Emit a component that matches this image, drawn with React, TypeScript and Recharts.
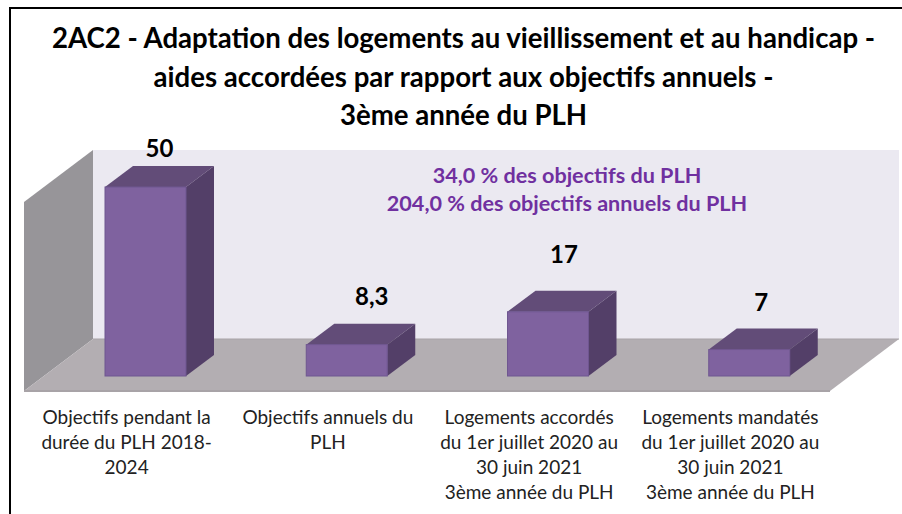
import React from "react";
import { BarChart, Bar, XAxis, YAxis, LabelList, Customized } from "recharts";

const categories = [
  ["Objectifs pendant la", "durée du PLH 2018-", "2024"],
  ["Objectifs annuels du", "PLH"],
  ["Logements accordés", "du 1er juillet 2020 au", "30 juin 2021", "3ème année du PLH"],
  ["Logements mandatés", "du 1er juillet 2020 au", "30 juin 2021", "3ème année du PLH"],
];
const values = [50, 8.3, 17, 7];
const valueLabels = ["50", "8,3", "17", "7"];
const titleLines = [
  "2AC2 - Adaptation des logements au vieillissement et au handicap -",
  "aides accordées par rapport aux objectifs annuels -",
  "3ème année du PLH",
];
const noteLines = ["34,0 % des objectifs du PLH", "204,0 % des objectifs annuels du PLH"];

const labelShift = [
  [14, -38],
  [25, -48],
  [16, -57],
  [12, -47],
];

const data = values.map((value, i) => ({ key: String(i), value }));
const FONT = "Lato, Carlito, 'Open Sans', sans-serif";
const DX = 28;
const DY = 21;

const Box = (props: any) => {
  const { x, y, width, height } = props;
  const r = x + width;
  const b = y + height;
  return (
    <g>
      <polygon points={`${x},${y} ${x + DX},${y - DY} ${r + DX},${y - DY} ${r},${y}`} fill="#624C78" />
      <polygon points={`${r},${y} ${r + DX},${y - DY} ${r + DX},${b - DY} ${r},${b}`} fill="#533F68" />
      <rect x={x} y={y} width={width} height={height} fill="#7F629F" stroke="#6F5690" strokeWidth={1} />
    </g>
  );
};

const Scene = () => (
  <g>
    <polygon points="93,150 899,150 899,339 93,339" fill="#EBE9F1" />
    <polygon points="24,202 93,150 93,339 24,391" fill="#979599" />
    <polygon points="24,391 93,339 899,339 830,391" fill="#B3AEB2" />
    <line x1={24} y1={391} x2={830} y2={391} stroke="#A8A3A7" strokeWidth={2} />
    <line x1={93} y1={339} x2={899} y2={339} stroke="#A8A3A7" strokeWidth={1} />
    {titleLines.map((t, i) => (
      <text key={t} x={463.5} y={48 + i * 38.5} textAnchor="middle" fontFamily={FONT} fontSize={27.6} fontWeight={700} fill="#000">
        {t}
      </text>
    ))}
    {noteLines.map((t, i) => (
      <text key={t} x={567} y={183 + i * 28} textAnchor="middle" fontFamily={FONT} fontSize={21.6} fontWeight={700} fill="#7030A0">
        {t}
      </text>
    ))}
  </g>
);

const CategoryTick = (props: any) => {
  const { x, payload } = props;
  const lines = categories[payload.index] ?? [];
  return (
    <g>
      {lines.map((t, i) => (
        <text key={i} x={x - 19} y={424 + i * 25} textAnchor="middle" fontFamily={FONT} fontSize={19} fill="#222">
          {t}
        </text>
      ))}
    </g>
  );
};

const ValueLabel = (props: any) => {
  const { x, y, width, index } = props;
  const [sx, sy] = labelShift[index];
  return (
    <text x={x + width / 2 + sx} y={y + sy + 8} textAnchor="middle" fontFamily={FONT} fontSize={24} fontWeight={700} fill="#000">
      {valueLabels[index]}
    </text>
  );
};

export default function App() {
  return (
    <div style={{ position: "absolute", left: 0, top: 0, width: 902, height: 514, background: "#fff", overflow: "hidden" }}>
      <div style={{ position: "absolute", left: 9, top: 7, width: 893, height: 507, borderLeft: "2.5px solid #000", borderTop: "2px solid #000", boxSizing: "border-box" }} />
      <BarChart
        width={902}
        height={514}
        data={data}
        margin={{ top: 187, right: 52, bottom: 0, left: 45 }}
        barCategoryGap={60}
      >
        <Customized component={Scene} />
        <XAxis dataKey="key" axisLine={false} tickLine={false} height={138} interval={0} tick={<CategoryTick />} />
        <YAxis hide domain={[0, 50]} />
        <Bar dataKey="value" isAnimationActive={false} shape={<Box />} barSize={81}>
          <LabelList dataKey="value" content={<ValueLabel />} />
        </Bar>
      </BarChart>
    </div>
  );
}
